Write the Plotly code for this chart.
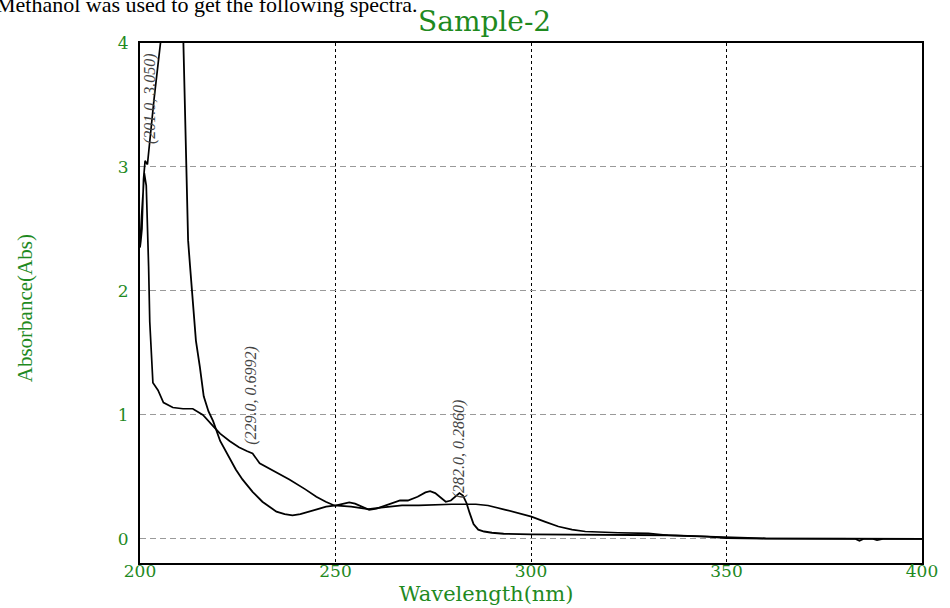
import plotly.graph_objects as go

# ---------------- data ----------------
curve_a_nm = [200.0, 210.6, 211.1, 211.5, 212.0, 212.3, 212.8, 213.4, 214.3, 215.3, 216.3,
              217.5, 218.7, 220.5, 222.9, 224.5, 226.2, 228.8, 231.3, 233.0, 234.9, 237.0,
              239.0, 241.0, 243.3, 245.5, 247.6, 250.2, 252.0, 253.5, 255.0, 256.8, 258.6,
              260.5, 263.0, 265.0, 266.5, 268.5, 271.0, 273.0, 274.2, 275.5, 277.0, 278.2,
              279.5, 280.5, 281.7, 282.6, 283.5, 284.3, 285.3, 286.5, 288.0, 290.0, 293.0,
              300.0, 308.0, 320.0, 335.0, 345.0, 350.0, 360.0, 383.0, 384.0, 385.0, 387.5,
              388.5, 390.0, 400.0]
curve_a_abs = [4.6, 4.6, 4.0, 3.48, 2.81, 2.41, 2.2, 1.95, 1.6, 1.39, 1.15,
               1.03, 0.95, 0.79, 0.65, 0.56, 0.48, 0.38, 0.30, 0.26, 0.22, 0.20,
               0.19, 0.20, 0.22, 0.245, 0.26, 0.27, 0.285, 0.295, 0.285, 0.26, 0.235,
               0.245, 0.27, 0.29, 0.31, 0.31, 0.34, 0.375, 0.385, 0.37, 0.33, 0.30,
               0.31, 0.34, 0.37, 0.35, 0.29, 0.21, 0.12, 0.075, 0.06, 0.05, 0.042,
               0.037, 0.035, 0.034, 0.03, 0.018, 0.006, 0.003, 0.0, -0.015, 0.0, 0.0,
               -0.01, 0.0, 0.0]

curve_b_nm = [205.6, 203.6, 201.9, 201.3, 200.9, 200.5, 200.2, 200.0, 200.4, 200.7, 201.1,
              201.6, 201.9, 202.2, 202.5, 203.0, 203.3, 204.6, 206.0, 208.4, 211.0, 213.5,
              216.1, 218.7, 220.5, 222.9, 225.3, 227.3, 228.8, 230.6, 233.5, 236.2, 238.2,
              242.3, 245.1, 247.5, 249.7, 254.0, 258.4, 261.0, 265.0, 267.0, 271.3, 275.0,
              279.7, 285.9, 289.0, 293.5, 297.0, 300.1, 303.5, 307.0, 310.5, 313.9, 322.3,
              330.0, 335.0, 342.0, 350.0, 360.0, 400.0]
curve_b_abs = [4.1, 3.55, 3.02, 3.05, 2.9, 2.5, 2.4, 2.35, 2.6, 2.8, 2.95,
               2.85, 2.55, 2.2, 1.75, 1.38, 1.26, 1.20, 1.10, 1.06, 1.05, 1.05,
               1.00, 0.91, 0.85, 0.79, 0.74, 0.71, 0.69, 0.61, 0.56, 0.51, 0.48,
               0.40, 0.34, 0.30, 0.27, 0.26, 0.24, 0.25, 0.26, 0.27, 0.27, 0.275,
               0.28, 0.28, 0.27, 0.235, 0.205, 0.18, 0.14, 0.10, 0.075, 0.06, 0.05,
               0.045, 0.03, 0.022, 0.012, 0.005, 0.0]

peak_labels = ["(201.0, 3.050)", "(229.0, 0.6992)", "(282.0, 0.2860)"]
peak_label_nm = [202.6, 228.3, 281.8]
peak_label_abs = [3.55, 1.16, 0.73]

x_ticks = [200, 250, 300, 350, 400]
y_ticks = [0, 1, 2, 3, 4]

title_text = "Sample-2"
x_title = "Wavelength(nm)"
y_title = "Absorbance(Abs)"
caption_text = "Methanol was used to get the following spectra."

# ---------------- styles ----------------
GREEN = "#1f8a1f"
SERIF = "DejaVu Serif"
TIMES = "Liberation Serif"

fig = go.Figure()
fig.add_trace(go.Scatter(x=curve_b_nm, y=curve_b_abs, mode="lines",
                         line=dict(color="black", width=1.7), showlegend=False,
                         hoverinfo="x+y"))
fig.add_trace(go.Scatter(x=curve_a_nm, y=curve_a_abs, mode="lines",
                         line=dict(color="black", width=1.8), showlegend=False,
                         hoverinfo="x+y"))

annotations = []
for txt, xv, yv in zip(peak_labels, peak_label_nm, peak_label_abs):
    annotations.append(dict(x=xv, y=yv, xref="x", yref="y", text=txt, showarrow=False,
                            textangle=-90,
                            font=dict(family=TIMES, size=16, color="#444444", style="italic")))

# plot area in pixels: x 140..925, y 43..563 (520 px tall)
annotations.append(dict(x=0.441, y=1.042, xref="paper", yref="paper", text=title_text,
                        showarrow=False, xanchor="center", yanchor="middle",
                        font=dict(family=SERIF, size=28, color=GREEN)))
annotations.append(dict(x=0.443, y=-0.087, xref="paper", yref="paper", text=x_title,
                        showarrow=False, xanchor="center", yanchor="bottom",
                        font=dict(family=SERIF, size=21, color=GREEN)))
annotations.append(dict(x=-0.147, y=0.49, xref="paper", yref="paper", text=y_title,
                        showarrow=False, xanchor="center", yanchor="middle", textangle=-90,
                        font=dict(family=TIMES, size=21, color=GREEN)))
annotations.append(dict(x=-0.187, y=1.075, xref="paper", yref="paper", text=caption_text,
                        showarrow=False, xanchor="left", yanchor="middle",
                        font=dict(family=TIMES, size=22, color="black")))

fig.update_layout(
    width=950, height=608,
    margin=dict(l=140, r=25, t=43, b=45),
    paper_bgcolor="white", plot_bgcolor="white",
    annotations=annotations,
    showlegend=False,
)
fig.update_xaxes(range=[200, 400], tickvals=x_ticks, ticktext=[str(v) for v in x_ticks],
                 showgrid=True, gridcolor="black", griddash="dot", gridwidth=1,
                 showline=True, linecolor="black", linewidth=2, mirror=True,
                 zeroline=False, ticks="", ticklabelstandoff=-8,
                 tickfont=dict(family=SERIF, size=17, color=GREEN))
fig.update_yaxes(range=[-0.194, 4.0], tickvals=y_ticks, ticktext=[str(v) for v in y_ticks],
                 showgrid=True, gridcolor="#9a9a9a", griddash="6px,4px", gridwidth=1,
                 showline=True, linecolor="black", linewidth=2, mirror=True,
                 zeroline=False, ticks="", ticklabelstandoff=6,
                 tickfont=dict(family=SERIF, size=17, color=GREEN))

fig.write_html("out.html")
